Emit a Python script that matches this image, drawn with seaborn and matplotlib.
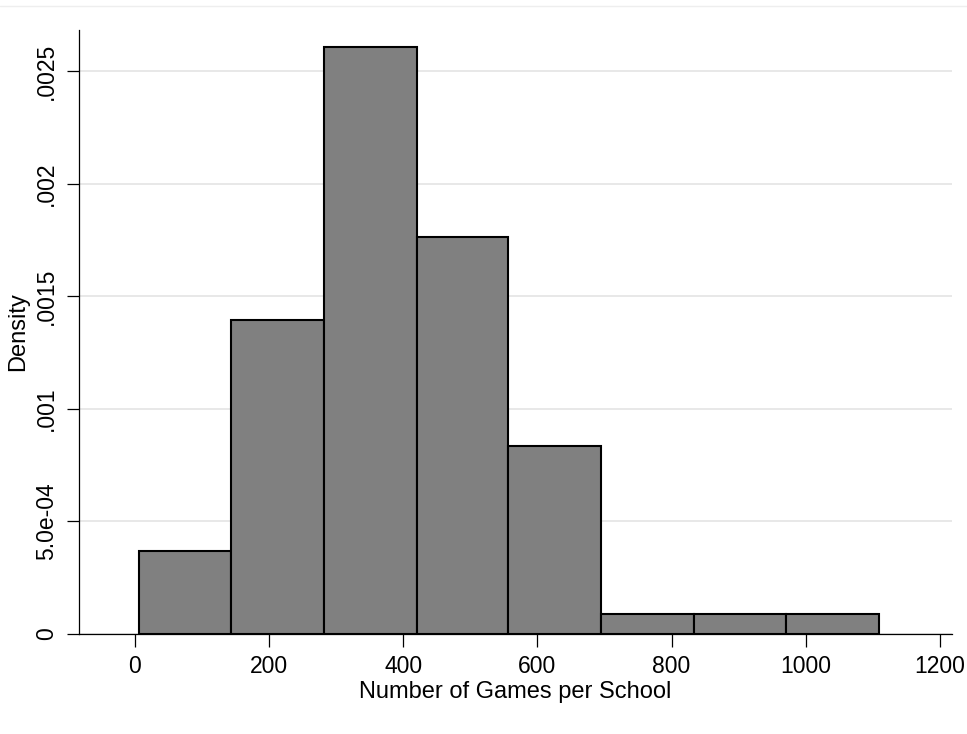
import numpy as np
import pandas as pd
import matplotlib
matplotlib.use("Agg")
import matplotlib.pyplot as plt
import seaborn as sns

# histogram (density scale, 8 bins of width ~138)
bin_edges = [6, 144, 282, 420, 557, 695, 833, 971, 1109]
densities = [0.000368, 0.001396, 0.002606, 0.001764, 0.000833, 0.0000887, 0.0000887, 0.0000887]
ytick_vals = [0, 0.0005, 0.001, 0.0015, 0.002, 0.0025]
ytick_labels = ["0", "5.0e-04", ".001", ".0015", ".002", ".0025"]
xtick_vals = [0, 200, 400, 600, 800, 1000, 1200]

centers = [(a + b) / 2 for a, b in zip(bin_edges[:-1], bin_edges[1:])]
df = pd.DataFrame({"games": centers, "density": densities})

sns.set_style("white", {"text.color": "black", "axes.labelcolor": "black",
                        "xtick.color": "black", "ytick.color": "black"})
plt.rcParams["font.family"] = ["Liberation Sans", "DejaVu Sans"]

fig = plt.figure(figsize=(9.67, 7.34), dpi=100)
ax = fig.add_axes([79 / 967, 1 - 634 / 734, (952 - 79) / 967, (634 - 30) / 734])

sns.histplot(data=df, x="games", weights="density", bins=bin_edges, ax=ax,
             color="#808080", alpha=1, edgecolor="black", linewidth=1.5)

ax.set_xlim(-83, 1218)
ax.set_ylim(0, 0.002682)
ax.set_xticks(xtick_vals)
ax.set_xticklabels([str(v) for v in xtick_vals])
ax.set_yticks(ytick_vals)
ax.set_yticklabels(ytick_labels, rotation=90, va="center")
ax.yaxis.grid(True, color="#e4e4e4", linewidth=1.2)
ax.set_axisbelow(True)

for s in ["top", "right"]:
    ax.spines[s].set_visible(False)
for s in ["left", "bottom"]:
    ax.spines[s].set_color("black")
    ax.spines[s].set_linewidth(0.9)

ax.tick_params(axis="both", direction="out", length=9, width=0.9, color="black",
               labelcolor="black", labelsize=16.5, pad=6, left=True, bottom=True)
ax.set_xlabel("Number of Games per School", fontsize=17, labelpad=2, color="black")
ax.set_ylabel("Density", fontsize=17, labelpad=4, color="black")

fig.add_artist(plt.Line2D([0, 1], [1 - 6 / 734, 1 - 6 / 734], color="#eeeeee", linewidth=1))

fig.savefig("out.png", dpi=100, facecolor="white")
